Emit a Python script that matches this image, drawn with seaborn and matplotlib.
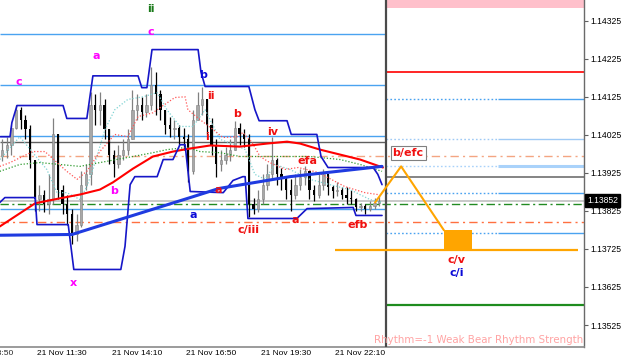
import numpy as np
import pandas as pd
import matplotlib
matplotlib.use("Agg")
import matplotlib.pyplot as plt
import matplotlib.ticker as mticker
import seaborn as sns

sns.set_style("white")
plt.rcParams["font.family"] = ["Liberation Sans", "DejaVu Sans"]

DAY0 = pd.Timestamp("2018-11-21")


def t(s):
    ts = pd.Timestamp(s) if "-" in s else pd.Timestamp("2018-11-21 " + s)
    return (ts - DAY0) / pd.Timedelta(minutes=1)


# ---------------- data ----------------
# 10-minute candles starting 21 Nov 10:10
first_open = 1.13970
close = [1.13986, 1.13999, 1.14044, 1.14091, 1.14065, 1.14039, 1.13960, 1.13855, 1.13868, 1.13842,
         1.13855, 1.14026, 1.13881, 1.13842, 1.13816, 1.13763, 1.13789, 1.13894, 1.13921, 1.14104,
         1.14091, 1.14104, 1.14039, 1.13973, 1.13947, 1.13973, 1.13986, 1.14013, 1.14091, 1.14104,
         1.14086, 1.14104, 1.14157, 1.14131, 1.14091, 1.14052, 1.14039, 1.14044, 1.14018, 1.14013,
         1.13929, 1.14065, 1.14104, 1.14118, 1.14052, 1.13999, 1.13947, 1.13960, 1.13973, 1.13986,
         1.14044, 1.14026, 1.14013, 1.13842, 1.13829, 1.13855, 1.13894, 1.13921, 1.13960, 1.13921,
         1.13908, 1.13881, 1.13868, 1.13894, 1.13913, 1.13929, 1.13881, 1.13868, 1.13894, 1.13921,
         1.13887, 1.13876, 1.13881, 1.13868, 1.13860, 1.13855, 1.13834, 1.13837, 1.13829, 1.13837,
         1.13845, 1.13852]
high = [1.14013, 1.14018, 1.14052, 1.14104, 1.14097, 1.14078, 1.14052, 1.13960, 1.13894, 1.13881,
        1.13921, 1.14070, 1.14026, 1.13894, 1.13868, 1.13829, 1.13816, 1.13929, 1.13947, 1.14138,
        1.14131, 1.14138, 1.14118, 1.14039, 1.13986, 1.13999, 1.14013, 1.14039, 1.14144, 1.14131,
        1.14125, 1.14131, 1.14204, 1.14191, 1.14144, 1.14091, 1.14073, 1.14065, 1.14052, 1.14044,
        1.14026, 1.14091, 1.14138, 1.14152, 1.14118, 1.14070, 1.14013, 1.13986, 1.13994, 1.14013,
        1.14060, 1.14057, 1.14039, 1.14026, 1.13860, 1.13881, 1.13921, 1.13947, 1.14020, 1.13965,
        1.13939, 1.13913, 1.13908, 1.13921, 1.13934, 1.13942, 1.13929, 1.13894, 1.13921, 1.13934,
        1.13921, 1.13894, 1.13900, 1.13889, 1.13887, 1.13881, 1.13860, 1.13847, 1.13842, 1.13850,
        1.13860, 1.13863]
low = [1.13955, 1.13965, 1.13973, 1.14039, 1.14039, 1.14013, 1.13939, 1.13824, 1.13824, 1.13821,
       1.13816, 1.13842, 1.13855, 1.13816, 1.13789, 1.13737, 1.13745, 1.13782, 1.13881, 1.13894,
       1.14052, 1.14052, 1.14013, 1.13947, 1.13915, 1.13939, 1.13960, 1.13973, 1.14013, 1.14065,
       1.14065, 1.14073, 1.14091, 1.14078, 1.14065, 1.14026, 1.14018, 1.14013, 1.13999, 1.13986,
       1.13902, 1.13921, 1.14065, 1.14078, 1.14026, 1.13973, 1.13915, 1.13929, 1.13947, 1.13955,
       1.13986, 1.13999, 1.13992, 1.13810, 1.13816, 1.13821, 1.13842, 1.13881, 1.13908, 1.13894,
       1.13881, 1.13855, 1.13824, 1.13855, 1.13881, 1.13894, 1.13855, 1.13850, 1.13860, 1.13881,
       1.13868, 1.13860, 1.13863, 1.13855, 1.13842, 1.13842, 1.13824, 1.13824, 1.13816, 1.13824,
       1.13829, 1.13839]

# step channel (upper / lower)
up_t = ["10:10", "10:32", "10:36", "10:47", "12:26", "12:34", "13:17", "13:30", "15:07", "15:15",
        "15:26", "15:37", "17:16", "17:22", "17:31", "19:05", "19:18", "19:27", "20:27", "20:36",
        "21:31", "21:40", "21:55", "23:32", "23:42", "23:51"]
up_p = [1.14020, 1.14020, 1.14057, 1.14102, 1.14102, 1.14068, 1.14068, 1.14180, 1.14180, 1.14149,
        1.14149, 1.14249, 1.14249, 1.14191, 1.14152, 1.14152, 1.14091, 1.14062, 1.14062, 1.14026,
        1.14026, 1.13968, 1.13939, 1.13939, 1.13921, 1.13894]
lo_t = ["10:10", "10:21", "11:26", "11:30", "12:37", "12:49", "14:30", "14:39", "14:50", "15:00",
        "15:48", "16:01", "16:22", "16:37", "16:48", "16:59", "18:10", "18:31", "18:52", "18:57",
        "19:03", "20:48", "21:10", "22:49", "22:55", "23:51"]
lo_p = [1.13847, 1.13860, 1.13860, 1.13789, 1.13789, 1.13671, 1.13671, 1.13732, 1.13894, 1.13915,
        1.13915, 1.13960, 1.13960, 1.13999, 1.13999, 1.13876, 1.13873, 1.13905, 1.13915, 1.13915,
        1.13805, 1.13805, 1.13831, 1.13834, 1.13813, 1.13813]

# thick blue trend
tb_t = ["10:10", "12:45", "16:59", "18:01", "20:33", "23:51"]
tb_p = [1.13761, 1.13763, 1.13860, 1.13884, 1.13915, 1.13942]

# red moving average
ma_t = ["10:10", "11:26", "12:19", "13:02", "13:45", "14:13", "14:56", "15:39", "16:22", "16:59",
        "17:42", "18:46", "19:44", "20:27", "20:55", "21:38", "22:21", "23:04", "23:53"]
ma_p = [1.13784, 1.13845, 1.13858, 1.13868, 1.13881, 1.13900, 1.13936, 1.13968, 1.13981, 1.13989,
        1.13997, 1.13994, 1.14002, 1.14007, 1.14002, 1.13986, 1.13973, 1.13960, 1.13939]

# dotted indicator lines
rd_t = ["10:10", "10:32", "11:21", "11:47", "12:13", "12:34", "12:56", "13:17", "13:45", "14:17",
        "14:45", "15:07", "15:39", "16:01", "16:26", "16:48", "16:54", "17:20", "17:48", "18:09",
        "18:40", "18:52", "19:12", "19:29", "19:50", "20:23", "20:51", "21:34", "22:31", "23:14", "23:42"]
rd_p = [1.13942, 1.13952, 1.13981, 1.13981, 1.13952, 1.13929, 1.13908, 1.13929, 1.13981, 1.14026,
        1.14020, 1.14073, 1.14083, 1.14102, 1.14123, 1.14125, 1.14091, 1.14065, 1.14039, 1.14018,
        1.14020, 1.14031, 1.14005, 1.13968, 1.13952, 1.13934, 1.13939, 1.13926, 1.13889, 1.13873, 1.13868]
gd_t = ["10:10", "10:53", "11:36", "12:19", "13:02", "13:45", "14:56", "15:39", "16:09", "16:52",
        "17:20", "18:03", "18:46", "19:44", "20:27", "21:16", "22:21", "23:04", "23:51"]
gd_p = [1.13929, 1.13947, 1.13952, 1.13947, 1.13942, 1.13952, 1.13968, 1.13978, 1.13986, 1.13992,
        1.13981, 1.13978, 1.13968, 1.13968, 1.13968, 1.13968, 1.13960, 1.13947, 1.13929]
cd_t = ["10:10", "10:53", "11:21", "11:51", "12:13", "12:34", "13:02", "13:17", "13:30", "13:56",
        "14:17", "14:45", "15:18", "15:48", "16:09", "16:37", "17:05", "17:31", "18:03", "18:35",
        "18:57", "19:18", "19:40", "20:01", "20:33", "21:16", "21:59", "22:42", "23:25", "23:53"]
cd_p = [1.13960, 1.14020, 1.13978, 1.13934, 1.13873, 1.13873, 1.13855, 1.13889, 1.13934, 1.14039,
        1.14091, 1.14118, 1.14125, 1.14136, 1.14091, 1.14047, 1.14047, 1.14091, 1.14013, 1.13999,
        1.13986, 1.13921, 1.13908, 1.13947, 1.13934, 1.13908, 1.13894, 1.13881, 1.13855, 1.13847]

# horizontal levels
left_blue_levels = [1.14291, 1.14157, 1.14023, 1.13831]
left_gray_level = 1.14007
salmon_level = 1.13968
price_now = 1.13852
green_dd_level = 1.13842
coral_level = 1.13796
right_red_level = 1.14191
right_gray_level = 1.13915
right_green_level = 1.13577
right_blue_levels = [1.14118, 1.14015, 1.13942, 1.13871, 1.13768]
pink_band = (1.14359, 1.14390)
target_level = 1.13722
target_box_top = 1.13774

# projection zigzag
zz_t = ["23:36", "2018-11-22 00:32", "2018-11-22 02:04"]
zz_p = [1.13847, 1.13942, 1.13774]

# wave labels
lab_text = ["ii", "c", "a", "c", "b", "ii", "i", "b", "iv", "efa", "b", "a", "x", "a", "c/iii", "a",
            "efb", "c/v", "c/i"]
lab_time = ["15:35", "15:35", "13:37", "10:51", "17:27", "17:44", "17:35", "18:40", "19:55", "21:10",
            "14:15", "17:05", "12:49", "17:59", "19:05", "20:44", "22:59", "2018-11-22 02:32",
            "2018-11-22 02:32"]
lab_price = [1.14356, 1.14296, 1.14233, 1.14165, 1.14183, 1.14128, 1.14018, 1.14081, 1.14033, 1.13957,
             1.13876, 1.13813, 1.13635, 1.13881, 1.13776, 1.13800, 1.13787, 1.13695, 1.13661]
lab_col = ["green", "magenta", "magenta", "magenta", "blue", "red", "red", "red", "red", "red",
           "magenta", "blue", "magenta", "red", "red", "red", "red", "red", "blue"]

yticks = [1.14325, 1.14225, 1.14125, 1.14025, 1.13925, 1.13825, 1.13725, 1.13625, 1.13525]
xticks = ["11:30", "14:10", "16:50", "19:30", "22:10"]

# ---------------- figure ----------------
fig = plt.figure(figsize=(6.25, 3.59), dpi=100)
ax = fig.add_axes([0, 12 / 359, 584 / 625, 347 / 359])

x_left = t("10:10:30")
x_right = t("2018-11-22 07:04:48")
sep = t("2018-11-22 00:00")
split = t("2018-11-22 04:00")

colors = {"red": "#f01010", "magenta": "#ff00ff", "blue": "#0a0ad8", "green": "#1a7a1a"}

# pink band
ax.fill_between([sep, x_right], pink_band[0], pink_band[1], color="#ffc0cb", lw=0, zorder=1)

# left horizontal levels
ax.hlines(left_blue_levels, x_left, sep, color="#4aa3f0", lw=1.0, zorder=1.5)
ax.hlines(left_gray_level, x_left, sep, color="#606060", lw=1.0, zorder=1.5)
# full width levels
ax.hlines(salmon_level, x_left, x_right, color="#f4a582", lw=1.0, linestyles=[(0, (6, 3, 1.5, 3))], zorder=1.5)
ax.hlines(price_now, x_left, x_right, color="#c0c0c0", lw=1.2, zorder=1.5)
ax.hlines(green_dd_level, x_left, x_right, color="#228b22", lw=1.0, linestyles=[(0, (6, 2.5, 1.5, 2.5))], zorder=1.5)
ax.hlines(coral_level, x_left, x_right, color="#ff7040", lw=1.0, linestyles=[(0, (6, 3, 1.5, 3))], zorder=1.5)
# right region levels
ax.hlines(right_red_level, sep, x_right, color="#ff0000", lw=1.2, zorder=1.5)
ax.hlines(right_gray_level, sep, x_right, color="#707070", lw=1.2, zorder=1.5)
ax.hlines(right_green_level, sep, x_right, color="#1e8c1e", lw=1.6, zorder=1.5)
rb_colors = ["#4aa3f0", "#9fcaf5", "#a9d2fa", "#4aa3f0", "#4aa3f0"]
rb_widths = [1.0, 1.0, 2.2, 1.0, 1.0]
for lev, c, w in zip(right_blue_levels, rb_colors, rb_widths):
    ax.hlines(lev, sep, split, color=c, lw=1.0, linestyles=[(0, (1.2, 1.6))], zorder=1.5)
    ax.hlines(lev, split, x_right, color=c, lw=w, zorder=1.5)

# separator
ax.axvline(sep, color="#4a4a4a", lw=1.6, zorder=3)

# candles
bar_times = pd.date_range("2018-11-21 10:10", periods=len(close), freq="10min")
bx = np.array([(b - DAY0) / pd.Timedelta(minutes=1) for b in bar_times]) + 5
o = np.array([first_open] + close[:-1])
c = np.array(close)
h = np.maximum(np.array(high), np.maximum(o, c))
l = np.minimum(np.array(low), np.minimum(o, c))
upb = c >= o
ax.vlines(bx[upb], l[upb], h[upb], color="#808080", lw=0.9, zorder=2)
ax.vlines(bx[~upb], l[~upb], h[~upb], color="#000000", lw=0.9, zorder=2)
body_h = np.maximum(np.abs(c - o), 0.000025)
ax.bar(bx[upb], body_h[upb], bottom=np.minimum(o, c)[upb], width=5.0, color="#a8a8a8",
       edgecolor="#808080", lw=0.4, zorder=2.1)
ax.bar(bx[~upb], body_h[~upb], bottom=np.minimum(o, c)[~upb], width=5.0, color="#000000",
       lw=0, zorder=2.1)


def sline(ts, ps, **kw):
    sns.lineplot(x=[t(s) for s in ts], y=ps, ax=ax, sort=False, estimator=None, legend=False, **kw)


# dotted indicators
sline(cd_t, cd_p, color="#7fd3d3", lw=0.9, linestyle=(0, (1, 1.5)), zorder=2.5)
sline(gd_t, gd_p, color="#2e9a2e", lw=0.9, linestyle=(0, (1, 1.5)), zorder=2.5)
sline(rd_t, rd_p, color="#ff5555", lw=0.9, linestyle=(0, (1, 1.5)), zorder=2.5)
# MA and channels
sline(ma_t, ma_p, color="#ff0000", lw=1.5, zorder=3)
sline(up_t, up_p, color="#1616c8", lw=1.2, zorder=3.2)
sline(lo_t, lo_p, color="#1616c8", lw=1.2, zorder=3.2)
sline(tb_t, tb_p, color="#1f3be0", lw=2.2, zorder=3.3)

# projection
sline(zz_t, zz_p, color="#ffa500", lw=1.5, zorder=3.4)
ax.hlines(target_level, t("22:10"), t("2018-11-22 06:52"), color="#ffa500", lw=1.6, zorder=3.4)
ax.bar(t("2018-11-22 02:04"), target_box_top - target_level, bottom=target_level,
       width=t("2018-11-22 03:04") - t("2018-11-22 02:04"), align="edge", color="#ffa500",
       lw=0, zorder=3.4)

# labels
for s, tm, p, col in zip(lab_text, lab_time, lab_price, lab_col):
    ax.text(t(tm), p, s, color=colors[col], fontsize=8, fontweight="bold", family="DejaVu Sans",
            ha="center", va="center", zorder=5)
ax.text(t("2018-11-22 00:47"), 1.13978, "b/efc", color=colors["red"], fontsize=8, fontweight="bold",
        family="DejaVu Sans", ha="center", va="center", zorder=5,
        bbox=dict(boxstyle="square,pad=0.18", fc="white", ec="#808080", lw=0.8))
ax.text(0.998, 0.02, "Rhythm=-1 Weak Bear Rhythm Strength", transform=ax.transAxes, ha="right",
        va="center", color="#ffa3a3", fontsize=7.4, family="DejaVu Sans", zorder=5)

# axes styling
ax.set_xlim(x_left, x_right)
ax.set_ylim(1.134672, 1.143794)
ax.set_xlabel("")
ax.set_ylabel("")
for side in ["top", "left"]:
    ax.spines[side].set_visible(False)
ax.spines["right"].set_color("#6a6a6a")
ax.spines["right"].set_linewidth(1.0)
ax.spines["bottom"].set_color("#8a8a8a")
ax.spines["bottom"].set_linewidth(1.2)

ax.yaxis.tick_right()
ax.yaxis.set_major_locator(mticker.FixedLocator(yticks))
ax.yaxis.set_major_formatter(mticker.FormatStrFormatter("%.5f"))
ax.tick_params(axis="y", direction="out", length=3, width=0.8, colors="#606060", labelcolor="black",
               labelsize=6.2, pad=1.5, left=False, right=True)
ax.set_xticks([t(s) for s in xticks])
ax.set_xticklabels(["21 Nov " + s for s in xticks])
ax.tick_params(axis="x", direction="out", length=2, width=0.8, colors="#606060", labelcolor="black",
               labelsize=6.0, pad=0.2)
for lbl in ax.get_xticklabels():
    lbl.set_horizontalalignment("left")
ax.annotate("21 Nov 08:50", xy=(t("08:50"), 0), xycoords=("data", "axes fraction"), xytext=(0, -2.2),
            textcoords="offset points", ha="left", va="top", fontsize=6.0, annotation_clip=False)
ax.annotate(f"{price_now:.5f}", xy=(1, price_now), xycoords=("axes fraction", "data"), xytext=(2.2, 0),
            textcoords="offset points", ha="left", va="center", fontsize=6.2, color="white",
            bbox=dict(boxstyle="square,pad=0.2", fc="black", ec="black"), annotation_clip=False, zorder=6)
ax.grid(False)

fig.savefig("out.png", dpi=100)
